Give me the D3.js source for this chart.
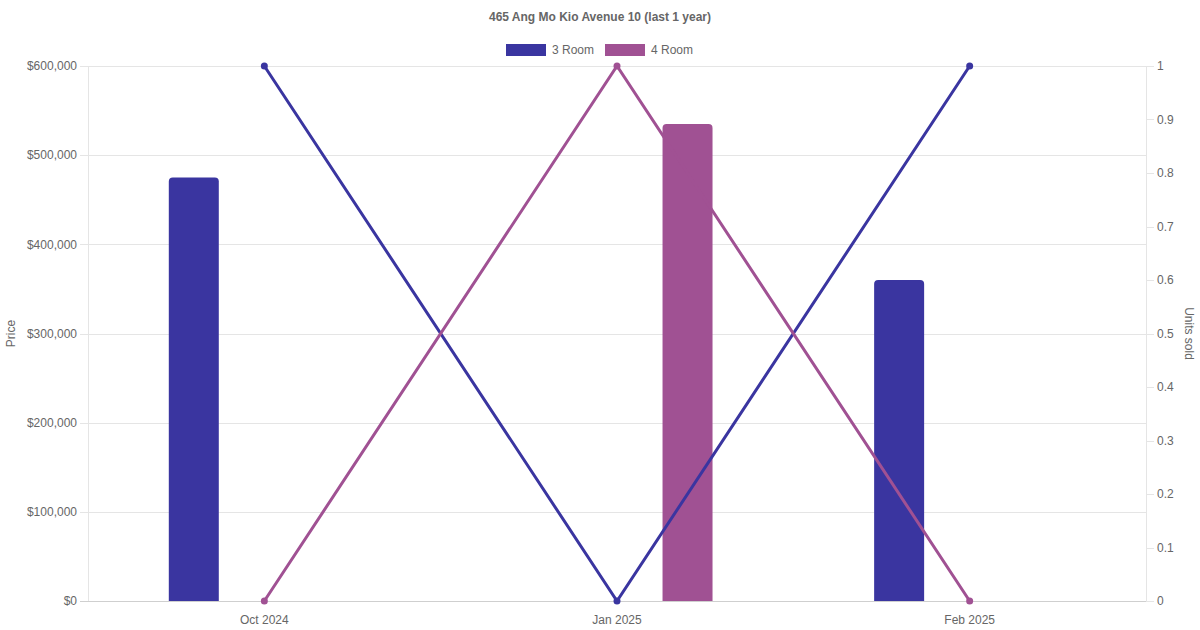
<!DOCTYPE html>
<html>
<head>
<meta charset="utf-8">
<script src="https://cdn.jsdelivr.net/npm/d3@7"></script>
<style>
  body { margin: 0; background: #fff; }
  svg text { font-family: "Liberation Sans", Arial, sans-serif; fill: #666; }
</style>
</head>
<body>
<div id="chart"></div>
<script>
var months = ['Oct 2024', 'Jan 2025', 'Feb 2025']
var seriesNames = ['3 Room', '4 Room']
var colors = ['#3a35a0', '#a05193']
// median price per month (null = no sale)
var prices3 = [475000, null, 360000]
var prices4 = [null, 535000, null]
// units sold per month
var units3 = [1, 0, 1]
var units4 = [0, 1, 0]
var priceTicks = [0, 100000, 200000, 300000, 400000, 500000, 600000]
var unitTicks = [0, 0.1, 0.2, 0.3, 0.4, 0.5, 0.6, 0.7, 0.8, 0.9, 1]

var w = 1200
var h = 630
// plot area edges (window.top is reserved, so use other names)
var pLeft = 88, pRight = 1146, pTop = 66, pBottom = 601

var svg = d3.select('#chart')
  .append('svg')
  .attr('width', w)
  .attr('height', h)

var x = d3.scaleBand()
  .domain(months)
  .range([pLeft, pRight])

var xSub = d3.scaleBand()
  .domain(seriesNames)
  .range([0, x.bandwidth()])
  .paddingInner(0)
  .paddingOuter(0.25)

var yPrice = d3.scaleLinear()
  .domain([0, 600000])
  .range([pBottom, pTop])

var yUnits = d3.scaleLinear()
  .domain([0, 1])
  .range([pBottom, pTop])

// gridlines
svg.append('g')
  .selectAll('line')
  .data(priceTicks)
  .enter()
  .append('line')
  .attr('x1', pLeft - 8)
  .attr('x2', pRight)
  .attr('y1', d => Math.round(yPrice(d)) + 0.5)
  .attr('y2', d => Math.round(yPrice(d)) + 0.5)
  .attr('stroke', d => d === 0 ? '#cfcfcf' : '#e5e5e5')
  .attr('stroke-width', 1)

// left axis labels
var fmt = d3.format(',')
svg.append('g')
  .selectAll('text')
  .data(priceTicks)
  .enter()
  .append('text')
  .attr('x', pLeft - 11)
  .attr('y', d => yPrice(d))
  .attr('dy', '0.35em')
  .attr('text-anchor', 'end')
  .style('font-size', '12px')
  .text(d => '$' + fmt(d))

// vertical border lines
svg.append('line')
  .attr('x1', pLeft + 0.5).attr('x2', pLeft + 0.5)
  .attr('y1', pTop).attr('y2', pBottom)
  .attr('stroke', '#e5e5e5')
svg.append('line')
  .attr('x1', pRight + 0.5).attr('x2', pRight + 0.5)
  .attr('y1', pTop).attr('y2', pBottom)
  .attr('stroke', '#e5e5e5')

// right axis ticks
var rAxis = svg.append('g')
rAxis.selectAll('line')
  .data(unitTicks)
  .enter()
  .append('line')
  .attr('x1', pRight)
  .attr('x2', pRight + 8)
  .attr('y1', d => Math.round(yUnits(d)) + 0.5)
  .attr('y2', d => Math.round(yUnits(d)) + 0.5)
  .attr('stroke', '#e5e5e5')
rAxis.selectAll('text')
  .data(unitTicks)
  .enter()
  .append('text')
  .attr('x', pRight + 11)
  .attr('y', d => yUnits(d))
  .attr('dy', '0.35em')
  .style('font-size', '12px')
  .text(d => d3.format('~g')(d))

// x labels
svg.append('g')
  .selectAll('text')
  .data(months)
  .enter()
  .append('text')
  .attr('x', d => x(d) + x.bandwidth() / 2)
  .attr('y', pBottom + 19)
  .attr('dy', '0.35em')
  .attr('text-anchor', 'middle')
  .style('font-size', '12px')
  .text(d => d)

// axis titles
svg.append('text')
  .attr('transform', 'translate(15,' + (pTop + pBottom) / 2 + ') rotate(-90)')
  .attr('text-anchor', 'middle')
  .style('font-size', '12px')
  .text('Price')
svg.append('text')
  .attr('transform', 'translate(1185,' + (pTop + pBottom) / 2 + ') rotate(90)')
  .attr('text-anchor', 'middle')
  .style('font-size', '12px')
  .text('Units sold')

// bars with rounded tops
function barPath(x0, y0, bw, y1, r) {
  return 'M' + x0 + ',' + y1 +
    'V' + (y0 + r) +
    'Q' + x0 + ',' + y0 + ' ' + (x0 + r) + ',' + y0 +
    'H' + (x0 + bw - r) +
    'Q' + (x0 + bw) + ',' + y0 + ' ' + (x0 + bw) + ',' + (y0 + r) +
    'V' + y1 + 'Z'
}

var barW = 50
var priceSeries = [prices3, prices4]
priceSeries.forEach(function(vals, i) {
  var name = seriesNames[i]
  svg.append('g')
    .selectAll('path')
    .data(vals.map((v, j) => ({ m: months[j], v: v })).filter(d => d.v !== null))
    .enter()
    .append('path')
    .attr('d', d => {
      var cx = x(d.m) + xSub(name) + xSub.bandwidth() / 2
      return barPath(cx - barW / 2, yPrice(d.v), barW, yPrice(0), 4)
    })
    .attr('fill', colors[i])
})

// lines
var unitSeries = [units3, units4]
var line = d3.line()
  .x((d, j) => x(months[j]) + x.bandwidth() / 2)
  .y(d => yUnits(d))

unitSeries.forEach(function(vals, i) {
  svg.append('path')
    .datum(vals)
    .attr('d', line)
    .attr('fill', 'none')
    .attr('stroke', colors[i])
    .attr('stroke-width', 3)
  svg.append('g')
    .selectAll('circle')
    .data(vals)
    .enter()
    .append('circle')
    .attr('cx', (d, j) => x(months[j]) + x.bandwidth() / 2)
    .attr('cy', d => yUnits(d))
    .attr('r', 3.5)
    .attr('fill', colors[i])
})

// title
svg.append('text')
  .attr('x', 600)
  .attr('y', 17)
  .attr('dy', '0.35em')
  .attr('text-anchor', 'middle')
  .style('font-size', '12px')
  .style('font-weight', 'bold')
  .text('465 Ang Mo Kio Avenue 10 (last 1 year)')

// legend
var legendX = [506, 605]
var legend = svg.append('g')
seriesNames.forEach(function(name, i) {
  legend.append('rect')
    .attr('x', legendX[i])
    .attr('y', 44)
    .attr('width', 40)
    .attr('height', 12)
    .attr('fill', colors[i])
  legend.append('text')
    .attr('x', legendX[i] + 46)
    .attr('y', 50)
    .attr('dy', '0.35em')
    .style('font-size', '12px')
    .text(name)
})
</script>
</body>
</html>
